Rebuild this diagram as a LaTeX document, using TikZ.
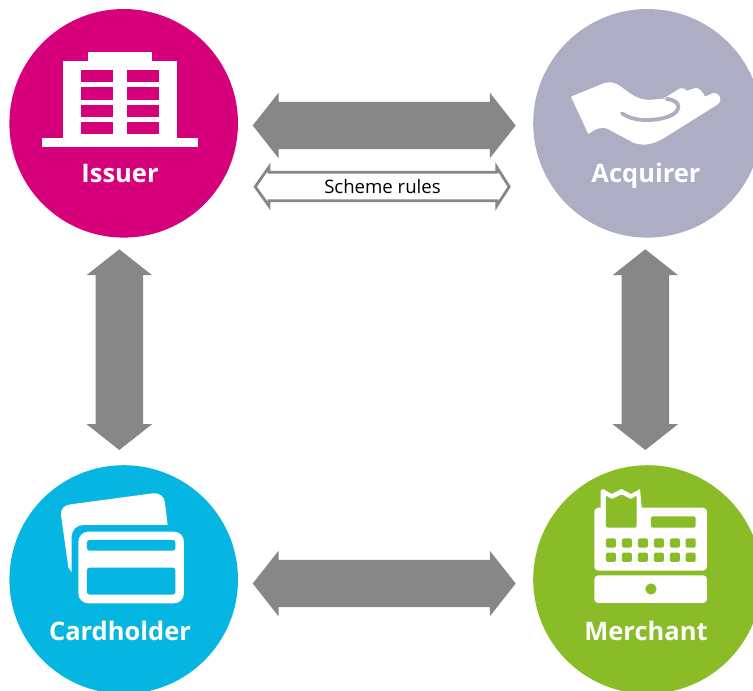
\documentclass[tikz,border=0pt]{standalone}
\usepackage{fontspec}
\setmainfont{Open Sans}
\usetikzlibrary{calc}
\definecolor{issuercol}{HTML}{D6007B}
\definecolor{acquirercol}{HTML}{ADADC4}
\definecolor{cardcol}{HTML}{05B5E2}
\definecolor{merchantcol}{HTML}{89BC27}
\definecolor{arrowcol}{HTML}{878787}
\tikzset{
  hub/.style={circle,draw=none,inner sep=0pt,minimum size=228.6pt},
  hublabel/.style={anchor=base,text=white,inner sep=0pt,font=\fontsize{25.5}{25.5}\selectfont\bfseries},
  blockarrow/.style={fill=arrowcol,draw=none},
  iconlayer/.style={x=0.3333pt,y=-0.3333pt},
}
% double block arrows between two named coordinates (tip to tip)
\newcommand\blockH[2]{%
  \path[blockarrow] let \p1=(#1),\p2=(#2) in
    (\x1,\y1) -- (\x1+25.8pt,\y1+32.7pt) -- (\x1+25.8pt,\y1+23.7pt)
    -- (\x2-25.8pt,\y1+23.7pt) -- (\x2-25.8pt,\y1+32.7pt) -- (\x2,\y1)
    -- (\x2-25.8pt,\y1-32.7pt) -- (\x2-25.8pt,\y1-23.7pt)
    -- (\x1+25.8pt,\y1-23.7pt) -- (\x1+25.8pt,\y1-32.7pt) -- cycle;}
\newcommand\blockV[2]{%
  \path[blockarrow] let \p1=(#1),\p2=(#2) in
    (\x1,\y1) -- (\x1+32.7pt,\y1-25.8pt) -- (\x1+23.7pt,\y1-25.8pt)
    -- (\x1+23.7pt,\y2+25.8pt) -- (\x1+32.7pt,\y2+25.8pt) -- (\x1,\y2)
    -- (\x1-32.7pt,\y2+25.8pt) -- (\x1-23.7pt,\y2+25.8pt)
    -- (\x1-23.7pt,\y1-25.8pt) -- (\x1-32.7pt,\y1-25.8pt) -- cycle;}
\begin{document}
\begin{tikzpicture}[x=1pt,y=-1pt]
\useasboundingbox (0,0) rectangle (753,691);
\clip (0,0) rectangle (753,691);

% circles
\node[hub,fill=issuercol] (issuer) at (123.7,123.3) {};
\node[hub,fill=acquirercol] (acquirer) at (647.5,123.3) {};
\node[hub,fill=cardcol] (cardholder) at (123.7,579.5) {};
\node[hub,fill=merchantcol] (merchant) at (647.5,579.5) {};

% labels
\node[hublabel] (issuerlabel) at (120,182.7) {Issuer};
\node[hublabel] (acquirerlabel) at (646,182.7) {Acquirer};
\node[hublabel] (cardlabel) at (120,640.7) {Cardholder};
\node[hublabel] (merchantlabel) at (646,640.7) {Merchant};

% connector ends
\coordinate (ia1) at (252.7,125.5);
\coordinate (ia2) at (515.7,125.5);
\coordinate (cm1) at (252.7,583.5);
\coordinate (cm2) at (515.7,583.5);
\coordinate (ic1) at (119.3,249.3);
\coordinate (ic2) at (119.3,450);
\coordinate (am1) at (645.3,249.3);
\coordinate (am2) at (645.3,450);
\blockH{ia1}{ia2}
\blockH{cm1}{cm2}
\blockV{ic1}{ic2}
\blockV{am1}{am2}

% scheme rules arrow
\draw[arrowcol,fill=white,line width=2.8pt,miter limit=10]
  (255.2,186.7) -- (269,167) -- (269,172.2) -- (496.7,172.2) -- (496.7,167)
  -- (509.2,186.7) -- (496.7,206) -- (496.7,200.8) -- (269,200.8) -- (269,206) -- cycle;
\node[anchor=base,inner sep=0pt,text=black,font=\fontsize{18.6}{18.6}\selectfont] (schemelabel) at (382.5,193.3) {Scheme rules};

% bank building
\begin{scope}[iconlayer]
  \fill[white] (125,415) rectangle (594,442);
  \fill[white] (189,184) rectangle (530,416);
  \fill[white] (264,157) rectangle (456,185);
  \foreach \ya/\yb in {210/247,262/300,315/352,365/403}{
    \fill[issuercol] (243,\ya) rectangle (339,\yb);
    \fill[issuercol] (381,\ya) rectangle (477,\yb);
  }
\end{scope}

% hand
\begin{scope}[shift={(525,0)},iconlayer]
  \fill[white]
    (138,290) -- (236,250) .. controls (255,243) and (270,248) .. (285,258)
    .. controls (310,275) and (330,297) .. (370,300) -- (415,296)
    -- (465,265) .. controls (472,262) and (482,266) .. (485,272)
    -- (512,264) .. controls (522,262) and (535,278) .. (540,290)
    -- (565,279) .. controls (580,276) and (595,296) .. (580,312)
    -- (430,406) .. controls (395,430) and (360,442) .. (325,428)
    -- (250,388) .. controls (230,377) and (210,388) .. (190,402) -- cycle;
  \draw[acquirercol,line width=3.8pt,line cap=round]
    (291,340) .. controls (325,365) and (385,365) .. (430,350)
    .. controls (470,335) and (472,302) .. (425,297);
\end{scope}

% cards
\begin{scope}[shift={(0,460)},iconlayer]
  \fill[white]
    (183,165) .. controls (181,145) and (195,135) .. (212,133)
    -- (458,100) .. controls (480,98) and (493,110) .. (495,128)
    -- (503,195) -- (250,195)
    .. controls (230,195) and (215,210) .. (215,230)
    -- (215,337) -- (205,322) -- cycle;
  \fill[white,rounded corners=10pt] (235,215) rectangle (552,430);
  \fill[cardcol,rounded corners=2.5pt] (261,240) -- (526,240) -- (526,272) -- (261,272) -- cycle;
  \fill[cardcol,rounded corners=2.5pt] (261,323) rectangle (526,404);
\end{scope}

% till
\begin{scope}[shift={(525,460)},iconlayer]
  \fill[white,rounded corners=4pt] (208,143) rectangle (546,332);
  \fill[white] (227,150) -- (227,92) -- (234,87) -- (260,102) -- (290,87) -- (318,102) -- (345,87) -- (351,150) -- cycle;
  \fill[merchantcol,rounded corners=1.5pt] (243,106) -- (260,118) -- (290,103) -- (318,118) -- (335,106) -- (335,203) -- (243,203) -- cycle;
  \fill[merchantcol,rounded corners=2pt] (378,169) rectangle (512,203);
  \foreach \xa in {243,291,339,387,435,482}{
    \fill[merchantcol,rounded corners=1.5pt] (\xa,235) rectangle ++(30,28);
    \fill[merchantcol,rounded corners=1.5pt] (\xa,278) rectangle ++(30,28);
  }
  \fill[white,rounded corners=4pt] (208,346) rectangle (546,429);
  \fill[merchantcol] (378,387) circle[radius=5.6pt];
\end{scope}
\end{tikzpicture}
\end{document}
